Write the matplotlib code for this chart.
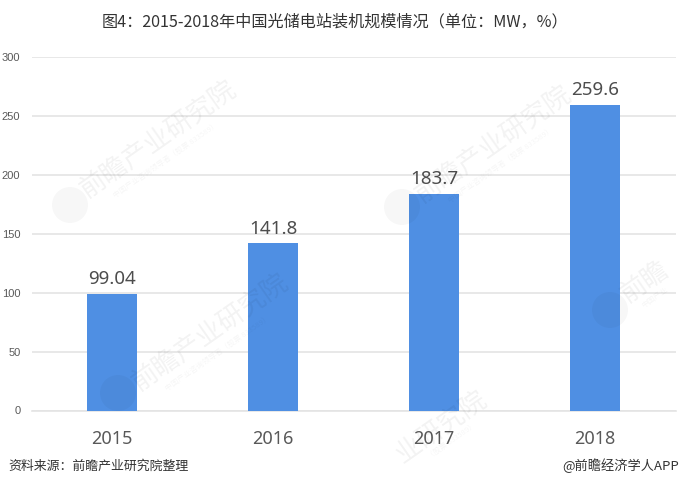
import matplotlib
matplotlib.use("Agg")
import matplotlib.pyplot as plt
from matplotlib.patches import Circle

plt.rcParams["font.family"] = ["Noto Sans CJK SC", "DejaVu Sans"]

W, H = 680, 487

years = ["2015", "2016", "2017", "2018"]
capacity = [99.04, 141.8, 183.7, 259.6]
capacity_labels = ["99.04", "141.8", "183.7", "259.6"]
y_ticks = [0, 50, 100, 150, 200, 250, 300]

fig = plt.figure(figsize=(W / 100, H / 100), dpi=100, facecolor="white")
ax = fig.add_axes([31.5 / W, 1 - 410.5 / H, 644 / W, 353.5 / H])

# bars and gridlines
ax.bar(years, capacity, width=0.31, color="#4f8fe3", zorder=3)
ax.set_xlim(-0.5, 3.5)
ax.set_ylim(0, 300)
ax.set_yticks(y_ticks)
ax.grid(axis="y", color="#e4e4e4", linewidth=1.2, zorder=1)
ax.tick_params(length=0)
ax.tick_params(axis="y", labelsize=8, labelcolor="#595959", pad=8)
ax.tick_params(axis="x", labelsize=13, labelcolor="#595959", pad=14)
for lab in ax.get_yticklabels():
    lab.set_family(["Liberation Sans", "DejaVu Sans"])
for lab in ax.get_xticklabels():
    lab.set_family(["Noto Sans", "DejaVu Sans"])
for side in ["top", "right", "left"]:
    ax.spines[side].set_visible(False)
ax.spines["bottom"].set_color("#e4e4e4")
ax.spines["bottom"].set_linewidth(1.2)

for i, (v, s) in enumerate(zip(capacity, capacity_labels)):
    ax.annotate(s, (i, v), xytext=(0, 4), textcoords="offset points", ha="center",
                va="bottom", fontsize=13.5, color="#4d4d4d", family=["Noto Sans", "DejaVu Sans"])

# watermarks: the ones at the right and bottom edge only show the part inside the picture
wm_full = "前瞻产业研究院"
wm_sub = "中国产业咨询领导者（股票 833589）"
marks = [
    (158, 140, wm_full, 166, 160, wm_sub),
    (493, 145, wm_full, 501, 165, wm_sub),
    (645, 282, "前瞻", 655, 298, "中国产业"),
    (210, 333, wm_full, 218, 353, wm_sub),
    (441, 427, "业研究院", 452, 441, "（股票 833589）"),
]
logos = [(70, 205), (402, 207), (610, 310), (118, 393)]
for x, y, s, sx, sy, sub in marks:
    fig.text(x / W, 1 - y / H, s, fontsize=19, color="#000000", alpha=0.05,
             rotation=35, rotation_mode="anchor", ha="center", va="center", zorder=10)
    fig.text(sx / W, 1 - sy / H, sub, fontsize=5.5, color="#000000", alpha=0.04,
             rotation=35, rotation_mode="anchor", ha="center", va="center", zorder=10)
for lx, ly in logos:
    fig.add_artist(Circle((lx, H - ly), 18, transform=None, facecolor="#000000",
                          edgecolor="none", alpha=0.03, zorder=10))

fig.text(335 / W, 1 - 22 / H, "图4：2015-2018年中国光储电站装机规模情况（单位：MW，%）",
         fontsize=11.6, color="#333333", ha="center", va="center")
fig.text(8 / W, 1 - 466 / H, "资料来源：前瞻产业研究院整理", fontsize=9.3, color="#333333",
         style="italic", ha="left", va="center")
fig.text(679 / W, 1 - 466 / H, "@前瞻经济学人APP", fontsize=9.5, color="#333333",
         ha="right", va="center")

fig.savefig("out.png", dpi=100)
